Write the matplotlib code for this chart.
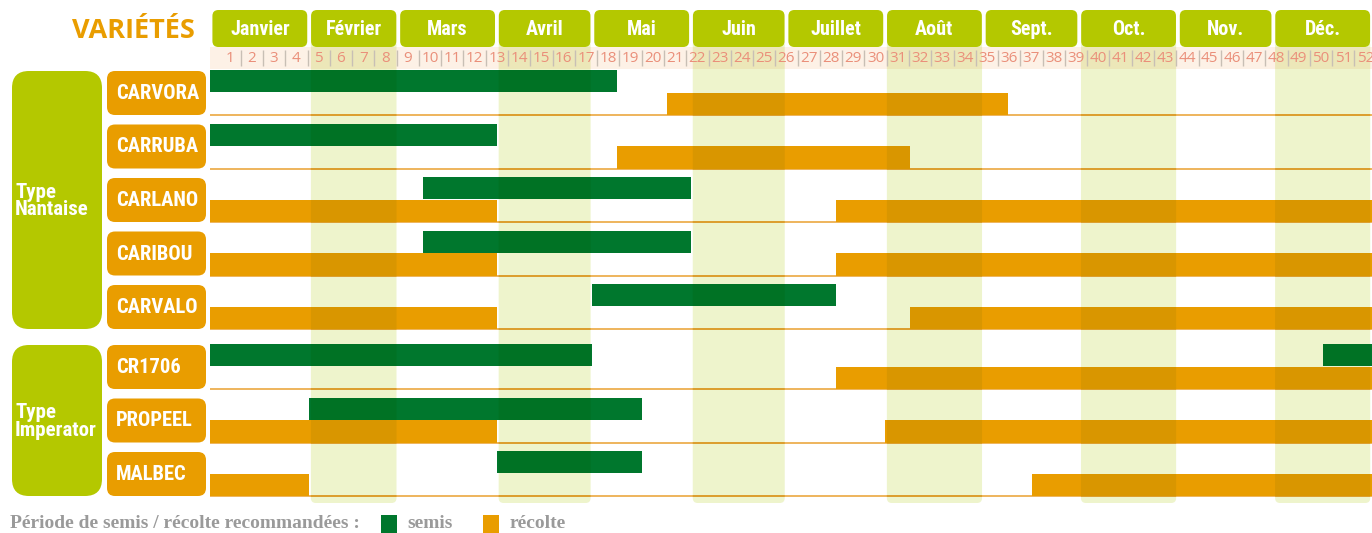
import matplotlib
matplotlib.use("Agg")
import matplotlib.pyplot as plt
from matplotlib.patches import FancyBboxPatch, Rectangle
from matplotlib.colors import to_rgb
import numpy as np

# ---------------- data ----------------
months = ["Janvier", "Février", "Mars", "Avril", "Mai", "Juin", "Juillet",
          "Août", "Sept.", "Oct.", "Nov.", "Déc."]
month_days = [31, 28, 31, 30, 31, 30, 31, 31, 30, 31, 30, 31]
weeks = list(range(1, 53))
varieties = ["CARVORA", "CARRUBA", "CARLANO", "CARIBOU", "CARVALO",
             "CR1706", "PROPEEL", "MALBEC"]
group_names = ["Type\nNantaise", "Type\nImperator"]
group_rows = [(0, 5), (5, 8)]
# periods in day-of-year (start, end)
semis = [
    [(0, 127.7)],
    [(0, 90)],
    [(66.7, 151)],
    [(66.7, 151)],
    [(120, 196.5)],
    [(0, 120), (349.5, 365)],
    [(31, 135.5)],
    [(90, 135.5)],
]
recolte = [
    [(143.3, 250.5)],
    [(127.7, 219.7)],
    [(0, 90), (196.5, 365)],
    [(0, 90), (196.5, 365)],
    [(0, 90), (219.7, 365)],
    [(196.5, 365)],
    [(0, 90), (212, 365)],
    [(0, 31), (258.1, 365)],
]
legend_title = "Période de semis / récolte recommandées :"
legend_labels = ["semis", "récolte"]

# ---------------- styles ----------------
GREEN = "#00772d"
ORANGE = "#e99d00"
LIME = "#b4c800"
BAND = "#eef4cc"
PEACH = "#fdf1e6"
WEEKTXT = "#ea8f7a"
ROWLINE = "#e9a030"
GREYTXT = "#9a9a9a"
band_rgb = to_rgb(BAND)


def mult(c):
    return tuple(a * b for a, b in zip(to_rgb(c), band_rgb))


COND = ["Roboto Condensed", "Roboto", "DejaVu Sans"]
OPEN = ["Open Sans", "DejaVu Sans"]
SERIF = ["Liberation Serif", "DejaVu Serif"]
plt.rcParams["font.family"] = COND

W, H = 1372, 533
fig = plt.figure(figsize=(W / 100, H / 100), dpi=100)
ax_bg = fig.add_axes([0, 0, 1, 1])
ax_bg.set_xlim(0, W)
ax_bg.set_ylim(H, 0)
ax_bg.axis("off")

x0 = 210.5
ax = fig.add_axes([x0 / W, 0, (W - x0) / W, 1])
ax.set_xlim(0, 365)
ax.set_ylim(H, 0)
ax.axis("off")
ax.patch.set_alpha(0)
ppd = (W - x0) / 365.0

cum = np.concatenate([[0], np.cumsum(month_days)])


def row_bottom(i):
    return 115 + i * 53.5 + (6.5 if i >= 5 else 0)


bottoms = [row_bottom(i) for i in range(len(varieties))]

# ---------------- bands ----------------
band_patches = []
for m in range(1, 12, 2):
    s, e = cum[m] + 0.55, cum[m + 1] - 0.55
    p = FancyBboxPatch((s, 40), e - s, 463,
                       boxstyle=f"round,pad=0,rounding_size={5 / ppd}",
                       mutation_aspect=ppd, fc=BAND, ec="none", zorder=0.5)
    ax.add_patch(p)
    band_patches.append(p)


def draw_content(colfn, clip=None, dz=0.0):
    arts = []
    r = Rectangle((0, 47), 365, 22, fc=colfn(PEACH), ec="none", zorder=1 + dz)
    ax.add_patch(r)
    arts.append(r)
    ln = ax.hlines(bottoms, 0, 365, colors=[colfn(ROWLINE)], lw=1.1, zorder=2 + dz)
    arts.append(ln)
    for i, b in enumerate(bottoms):
        bs = ax.broken_barh([(s, e - s) for s, e in semis[i]], (b - 45, 22),
                            facecolors=colfn(GREEN), edgecolor="none", zorder=3 + dz)
        br = ax.broken_barh([(s, e - s) for s, e in recolte[i]], (b - 22.5, 22.5),
                            facecolors=colfn(ORANGE), edgecolor="none", zorder=3 + dz)
        arts += [bs, br]
    if clip is not None:
        for a in arts:
            a.set_clip_path(clip)


draw_content(lambda c: c)
for p in band_patches:
    draw_content(mult, clip=p, dz=0.05)

# week separators & labels
seps = [2.5 + 7 * k for k in range(1, 52)]
ax.vlines(seps, 50, 66, colors="#c8bfb5", lw=1, zorder=4)
for k in weeks:
    ax.text(6 + 7 * (k - 1), 58.5, str(k), ha="center", va="center",
            fontsize=11, color=WEEKTXT, zorder=4, clip_on=False, family=OPEN)

# month boxes
for m, name in enumerate(months):
    s, e = cum[m] + 0.6, cum[m + 1] - 0.6
    ax.add_patch(FancyBboxPatch((s, 10), e - s, 37,
                                boxstyle=f"round,pad=0,rounding_size={6 / ppd}",
                                mutation_aspect=ppd, fc=LIME, ec="none", zorder=5,
                                clip_on=False))
    ax.text((s + e) / 2, 29.5, name, ha="center", va="center", fontsize=14.5,
            fontweight="bold", color="white", zorder=6)

# ---------------- left side ----------------
ax_bg.text(195, 31, "VARIÉTÉS", ha="right", va="center", fontsize=19.5,
           fontweight="bold", color=ORANGE, family=OPEN)

for i, (name, b) in enumerate(zip(varieties, bottoms)):
    ax_bg.add_patch(FancyBboxPatch((107, b - 44), 99, 44,
                                   boxstyle="round,pad=0,rounding_size=8",
                                   fc=ORANGE, ec="none"))
    ax_bg.text(116, b - 21.5, name, ha="left", va="center", fontsize=14.8,
               fontweight="bold", color="white")

for gname, (r0, r1) in zip(group_names, group_rows):
    top = bottoms[r0] - 44
    bot = bottoms[r1 - 1]
    ax_bg.add_patch(FancyBboxPatch((12, top), 90, bot - top,
                                   boxstyle="round,pad=0,rounding_size=17",
                                   fc=LIME, ec="none"))
    ax_bg.text(15, (top + bot) / 2 + 1, gname, ha="left", va="center",
               fontsize=15, fontweight="bold", color="white", linespacing=0.9)

# ---------------- legend ----------------
ax_bg.text(10, 528, legend_title, ha="left", va="baseline", fontsize=14,
           fontweight="bold", color=GREYTXT, family=SERIF)
for (xs, col, lab, xt) in [(381, GREEN, legend_labels[0], 407),
                           (483, ORANGE, legend_labels[1], 510)]:
    ax_bg.add_patch(Rectangle((xs, 515), 16, 18, fc=col, ec="none"))
    ax_bg.text(xt, 528, lab, ha="left", va="baseline", fontsize=14,
               fontweight="bold", color=GREYTXT, family=SERIF)

fig.savefig("out.png", dpi=100)
